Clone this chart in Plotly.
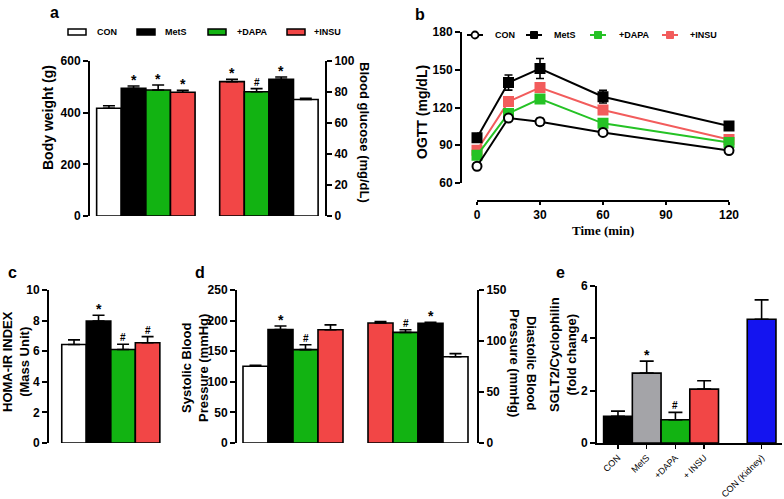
import plotly.graph_objects as go

W, H = 784, 499
def px(x): return x / W
def py(y): return 1 - y / H

FONT = "Liberation Sans, Arial, sans-serif"
SERIF = "Liberation Serif, Times New Roman, serif"
BLACK = "#000000"; WHITE = "#ffffff"; GREEN = "#12b312"; RED = "#f24646"
GREY = "#a4a4a8"; BLUE = "#1414f0"; LGREEN = "#25c225"; LRED = "#f25c5c"

# ---------------- data ----------------
groups = ["CON", "MetS", "+DAPA", "+INSU"]
group_colors = [WHITE, BLACK, GREEN, RED]

# panel a
bw_mean = [417, 494, 488, 479]
bw_sem = [10, 9, 19, 8]
bw_sig = ["", "*", "*", "*"]
glu_groups = ["+INSU", "+DAPA", "MetS", "CON"]
glu_colors = [RED, GREEN, BLACK, WHITE]
glu_mean = [86.7, 80.2, 88.2, 75.2]
glu_sem = [1.5, 2.0, 1.5, 0.8]
glu_sig = ["*", "#", "*", ""]

# panel b
time_min = [0, 15, 30, 60, 120]
ogtt_con = [73.3, 111.6, 108.7, 100.2, 85.8]
ogtt_con_sem = [1.5, 2.0, 2.5, 1.5, 1.5]
ogtt_mets = [95.9, 139.8, 151.0, 128.6, 105.2]
ogtt_mets_sem = [3.5, 6.0, 8.0, 5.0, 3.0]
ogtt_dapa = [82.0, 115.3, 126.8, 107.4, 92.2]
ogtt_dapa_sem = [2.0, 3.0, 2.0, 3.0, 2.0]
ogtt_insu = [86.0, 124.7, 135.8, 118.0, 94.6]
ogtt_insu_sem = [2.0, 2.5, 2.0, 2.5, 2.0]

# panel c
homa_mean = [6.44, 7.97, 6.11, 6.55]
homa_sem = [0.30, 0.38, 0.34, 0.40]
homa_sig = ["", "*", "#", "#"]

# panel d
sbp_mean = [125.3, 185.2, 152.5, 185.0]
sbp_sem = [1.5, 6.0, 8.0, 8.0]
sbp_sig = ["", "*", "#", ""]
dbp_groups = ["+INSU", "+DAPA", "MetS", "CON"]
dbp_colors = [RED, GREEN, BLACK, WHITE]
dbp_mean = [117.6, 108.5, 117.3, 84.6]
dbp_sem = [1.5, 2.5, 1.0, 3.0]
dbp_sig = ["", "#", "*", ""]

# panel e
sglt_labels = ["CON", "MetS", "+DAPA", "+ INSU", "CON (Kidney)"]
sglt_colors = [BLACK, GREY, GREEN, RED, BLUE]
sglt_mean = [1.02, 2.67, 0.89, 2.06, 4.73]
sglt_sem = [0.20, 0.46, 0.28, 0.32, 0.74]
sglt_sig = ["", "*", "#", "", ""]

# ---------------- figure ----------------
pos_left = [i for i in range(4)]
pos_right = [i + 5 for i in range(4)]
pos_e = [0, 1, 2, 3, 5]

fig = go.Figure()
annotations = []
shapes = []

def add_bars(x, y, sem, colors, xa, ya, cap=6):
    fig.add_trace(go.Bar(
        x=x, y=y, width=1.0, xaxis=xa, yaxis=ya, showlegend=False,
        marker=dict(color=colors, line=dict(color=BLACK, width=1.6)),
        error_y=dict(type="data", array=sem, arrayminus=[0] * len(sem), symmetric=False,
                     color=BLACK, thickness=1.6, width=cap)))

def add_sig(x, y, sem, sig, xa, ya):
    for xi, yi, si, s in zip(x, y, sem, sig):
        if not s:
            continue
        annotations.append(dict(
            x=xi, y=yi + si, xref=xa, yref=ya, text=s, showarrow=False,
            yanchor="bottom", yshift=(-4 if s == "*" else -1),
            font=dict(family=FONT, size=(14 if s == "*" else 10), color=BLACK, weight="bold")))

add_bars(pos_left, bw_mean, bw_sem, group_colors, "x", "y")
add_sig(pos_left, bw_mean, bw_sem, bw_sig, "x", "y")
add_bars(pos_right, glu_mean, glu_sem, glu_colors, "x", "y2")
add_sig(pos_right, glu_mean, glu_sem, glu_sig, "x", "y2")

# panel b lines
series_b = [
    (ogtt_con, ogtt_con_sem, BLACK, "circle", WHITE),
    (ogtt_mets, ogtt_mets_sem, BLACK, "square", BLACK),
    (ogtt_dapa, ogtt_dapa_sem, LGREEN, "square", LGREEN),
    (ogtt_insu, ogtt_insu_sem, LRED, "square", LRED),
]
for vals, sem, col, sym, fill in reversed(series_b):
    fig.add_trace(go.Scatter(
        x=time_min, y=vals, xaxis="x2", yaxis="y3", mode="lines+markers", showlegend=False,
        cliponaxis=False,
        line=dict(color=col, width=2),
        marker=dict(symbol=sym, size=9, color=fill, line=dict(color=col, width=2)),
        error_y=dict(type="data", array=sem, color=col, thickness=1.6, width=4)))

add_bars(pos_left, homa_mean, homa_sem, group_colors, "x3", "y4")
add_sig(pos_left, homa_mean, homa_sem, homa_sig, "x3", "y4")

add_bars(pos_left, sbp_mean, sbp_sem, group_colors, "x4", "y5")
add_sig(pos_left, sbp_mean, sbp_sem, sbp_sig, "x4", "y5")
add_bars(pos_right, dbp_mean, dbp_sem, dbp_colors, "x4", "y6")
add_sig(pos_right, dbp_mean, dbp_sem, dbp_sig, "x4", "y6")

add_bars(pos_e, sglt_mean, sglt_sem, sglt_colors, "x5", "y7", cap=7)
add_sig(pos_e, sglt_mean, sglt_sem, sglt_sig, "x5", "y7")

# ---------------- axes ----------------
TICKF = dict(family=FONT, size=12, color=BLACK, weight="bold")
def yax(dom, rng, dtick, **kw):
    d = dict(domain=[py(dom[0]), py(dom[1])], range=rng, dtick=dtick, tick0=0,
             showline=True, linewidth=2, linecolor=BLACK, ticks="outside", ticklen=5,
             tickwidth=2, tickcolor=BLACK, tickfont=TICKF, showgrid=False, zeroline=False,
             fixedrange=True, automargin=False)
    d.update(kw)
    return d

def hidden_x(dom, rng, anchor):
    return dict(domain=[px(dom[0]), px(dom[1])], range=rng, visible=False, anchor=anchor,
                fixedrange=True, automargin=False)

fig.update_layout(
    width=W, height=H, margin=dict(l=0, r=0, t=0, b=0, pad=0, autoexpand=False),
    paper_bgcolor=WHITE, plot_bgcolor="rgba(0,0,0,0)", barmode="overlay",
    showlegend=False,
    font=dict(family=FONT, color=BLACK),
    xaxis=hidden_x((90, 325), [-0.77, 8.78], "y"),
    yaxis=yax((216, 61), [0, 600], 200, anchor="x"),
    yaxis2=yax((216, 61), [0, 100], 20, anchor="x", overlaying="y", side="right"),
    xaxis2=dict(domain=[px(477), px(729)], range=[0, 120], tickvals=[0, 30, 60, 90, 120],
                showline=True, linewidth=2, linecolor=BLACK, ticks="outside", ticklen=3,
                tickwidth=2, tickcolor=BLACK, tickfont=TICKF, showgrid=False, zeroline=False,
                anchor="free", position=py(201), fixedrange=True, automargin=False),
    yaxis3=yax((183, 32), [60, 180], 30, anchor="free", position=px(461)),
    xaxis3=hidden_x((49, 165), [-1.02, 3.71], "y4"),
    yaxis4=yax((443, 290), [0, 10], 2, anchor="x3"),
    xaxis4=hidden_x((237, 477), [-0.74, 8.86], "y5"),
    yaxis5=yax((443, 290), [0, 250], 50, anchor="x4"),
    yaxis6=yax((443, 290), [0, 150], 50, anchor="x4", overlaying="y5", side="right"),
    xaxis5=dict(domain=[px(597), px(782)], range=[-0.73, 5.71], tickvals=pos_e,
                ticktext=sglt_labels, tickangle=-45, showline=True, linewidth=2,
                linecolor=BLACK, ticks="outside", ticklen=4, tickwidth=1.5, tickcolor=BLACK,
                tickfont=dict(family=FONT, size=9, color=BLACK), showgrid=False,
                zeroline=False, anchor="y7", fixedrange=True, automargin=False),
    yaxis7=yax((443, 286), [0, 6], 2, anchor="x5"),
)

# ---------------- text ----------------
def note(x, y, text, size=13, angle=0, family=FONT, weight="bold", xanchor="center"):
    annotations.append(dict(x=px(x), y=py(y), xref="paper", yref="paper", text=text,
                            showarrow=False, textangle=angle, xanchor=xanchor,
                            yanchor="middle",
                            font=dict(family=family, size=size, color=BLACK, weight=weight)))

for lab, x, y in [("a", 55, 12), ("b", 420, 14), ("c", 12, 272), ("d", 200, 272), ("e", 560, 272)]:
    note(x, y, lab, size=16)

note(48, 118, "Body weight (g)", size=14, angle=-90)
note(365, 132, "Blood glucose (mg/dL)", size=13, angle=90)
note(422, 112, "OGTT (mg/dL)", size=14, angle=-90)
note(603, 230, "Time (min)", size=13, family=SERIF)
note(16, 362, "HOMA-IR INDEX<br>(Mass Unit)", size=13, angle=-90)
note(195, 368, "Systolic Blood<br>Pressure (mmHg)", size=13, angle=-90)
note(523, 363, "Diastolic Blood<br>Pressure (mmHg)", size=13, angle=90)
note(563, 355, "SGLT2/Cyclophilin<br>(fold change)", size=13, angle=-90)

# legend panel a
leg_a_box = [68, 137, 208, 287]
leg_a_txt = [95, 163, 235, 312]
for g, c, bx, tx in zip(groups, group_colors, leg_a_box, leg_a_txt):
    shapes.append(dict(type="rect", xref="paper", yref="paper", x0=px(bx), x1=px(bx + 18),
                       y0=py(35), y1=py(29), fillcolor=c, line=dict(color=BLACK, width=1.5)))
    note(tx, 32, g, size=9, xanchor="left")

# legend panel b
leg_b_ctr = [475, 534, 598, 670]
leg_b_txt = [493, 552, 617, 688]
for g, (vals, sem, col, sym, fill), cx, tx in zip(groups, series_b, leg_b_ctr, leg_b_txt):
    shapes.append(dict(type="line", xref="paper", yref="paper", x0=px(cx - 8), x1=px(cx + 8),
                       y0=py(35), y1=py(35), line=dict(color=col, width=2)))
    if sym == "circle":
        shapes.append(dict(type="circle", xref="paper", yref="paper", x0=px(cx - 3.5),
                           x1=px(cx + 3.5), y0=py(38.5), y1=py(31.5), fillcolor=fill,
                           line=dict(color=col, width=1.8)))
    else:
        shapes.append(dict(type="rect", xref="paper", yref="paper", x0=px(cx - 3.5),
                           x1=px(cx + 3.5), y0=py(38.5), y1=py(31.5), fillcolor=fill,
                           line=dict(color=col, width=1)))
    note(tx, 35, g, size=9, xanchor="left")

fig.update_layout(annotations=annotations, shapes=shapes)
fig.write_html("out.html",
               config={"displayModeBar": False, "staticPlot": True},
               post_script="document.body.style.margin='0px';document.body.style.padding='0px';"
                           "document.body.style.overflow='hidden';")
